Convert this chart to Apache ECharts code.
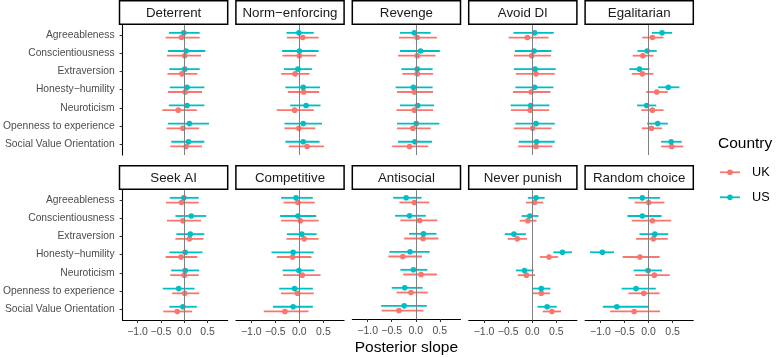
<!DOCTYPE html>
<html>
<head>
<meta charset="utf-8">
<script src="https://cdn.jsdelivr.net/npm/echarts@6/dist/echarts.min.js"></script>
<style>
  html, body { margin: 0; padding: 0; background: #fff; }
  #chart { width: 783px; height: 357px; }
</style>
</head>
<body>
<div id="chart"></div>
<script>
// traits shown on the y axis, top to bottom
const traits = ['Agreeableness', 'Conscientiousness', 'Extraversion', 'Honesty\u2212humility',
  'Neuroticism', 'Openness to experience', 'Social Value Orientation'];
const countries = ['UK', 'US'];
const xTicks = [-1, -0.5, 0, 0.5];

// each entry: [lower, estimate, upper] per trait
const deterrentUK = [[-0.40, -0.06, 0.33], [-0.37, 0.01, 0.36], [-0.36, -0.05, 0.28], [-0.35, 0.02, 0.38], [-0.47, -0.13, 0.27], [-0.38, -0.03, 0.32], [-0.30, 0.04, 0.38]];
const deterrentUS = [[-0.33, -0.01, 0.33], [-0.35, 0.04, 0.45], [-0.32, 0.01, 0.33], [-0.31, 0.06, 0.43], [-0.33, 0.06, 0.43], [-0.35, 0.11, 0.53], [-0.28, 0.09, 0.43]];
const normUK = [[-0.26, 0.07, 0.40], [-0.35, 0.00, 0.35], [-0.38, -0.09, 0.21], [-0.24, 0.09, 0.41], [-0.47, -0.10, 0.30], [-0.31, -0.01, 0.33], [-0.22, 0.16, 0.51]];
const normUS = [[-0.27, -0.01, 0.30], [-0.36, 0.00, 0.40], [-0.32, -0.03, 0.26], [-0.29, 0.08, 0.43], [-0.19, 0.14, 0.44], [-0.31, 0.08, 0.47], [-0.29, 0.08, 0.42]];
const revengeUK = [[-0.35, 0.03, 0.44], [-0.37, 0.03, 0.41], [-0.28, 0.03, 0.36], [-0.39, -0.03, 0.36], [-0.40, -0.03, 0.36], [-0.39, -0.06, 0.31], [-0.49, -0.13, 0.26]];
const revengeUS = [[-0.33, -0.03, 0.31], [-0.33, 0.10, 0.50], [-0.30, 0.03, 0.35], [-0.42, -0.05, 0.35], [-0.33, 0.04, 0.38], [-0.39, 0.01, 0.49], [-0.37, -0.02, 0.34]];
const avoidUK = [[-0.49, -0.10, 0.34], [-0.38, -0.01, 0.39], [-0.34, 0.08, 0.47], [-0.40, -0.02, 0.38], [-0.44, -0.04, 0.35], [-0.38, 0.01, 0.40], [-0.29, 0.08, 0.42]];
const avoidUS = [[-0.39, 0.05, 0.45], [-0.36, 0.04, 0.40], [-0.38, 0.06, 0.49], [-0.35, 0.05, 0.44], [-0.45, -0.03, 0.36], [-0.35, 0.08, 0.47], [-0.28, 0.09, 0.47]];
const egalUK = [[-0.13, 0.08, 0.31], [-0.33, -0.12, 0.10], [-0.35, -0.13, 0.10], [-0.05, 0.17, 0.40], [-0.15, 0.08, 0.31], [-0.14, 0.06, 0.28], [0.26, 0.48, 0.72]];
const egalUS = [[0.07, 0.28, 0.49], [-0.23, -0.03, 0.17], [-0.40, -0.19, 0.02], [0.20, 0.41, 0.64], [-0.24, -0.04, 0.16], [-0.03, 0.19, 0.40], [0.26, 0.47, 0.69]];
const seekUK = [[-0.39, -0.06, 0.31], [-0.37, -0.03, 0.36], [-0.19, 0.11, 0.41], [-0.40, -0.07, 0.28], [-0.30, 0.00, 0.31], [-0.26, 0.01, 0.32], [-0.45, -0.15, 0.17]];
const seekUS = [[-0.31, -0.01, 0.31], [-0.19, 0.15, 0.47], [-0.17, 0.13, 0.43], [-0.32, 0.02, 0.39], [-0.28, 0.02, 0.32], [-0.46, -0.12, 0.22], [-0.32, -0.03, 0.27]];
const compUK = [[-0.33, -0.03, 0.32], [-0.38, 0.02, 0.40], [-0.27, 0.10, 0.40], [-0.47, -0.14, 0.25], [-0.34, 0.06, 0.44], [-0.38, -0.04, 0.30], [-0.74, -0.30, 0.19]];
const compUS = [[-0.38, -0.07, 0.28], [-0.40, -0.03, 0.35], [-0.26, 0.05, 0.36], [-0.58, -0.13, 0.30], [-0.35, -0.01, 0.31], [-0.42, -0.10, 0.28], [-0.55, -0.13, 0.28]];
const antiUK = [[-0.34, -0.03, 0.28], [-0.32, 0.08, 0.45], [-0.24, 0.15, 0.47], [-0.57, -0.27, 0.13], [-0.26, 0.11, 0.44], [-0.40, -0.10, 0.25], [-0.71, -0.35, 0.16]];
const antiUS = [[-0.47, -0.20, 0.12], [-0.43, -0.13, 0.21], [-0.14, 0.16, 0.43], [-0.55, -0.12, 0.29], [-0.32, -0.05, 0.24], [-0.50, -0.23, 0.14], [-0.72, -0.24, 0.23]];
const neverUK = [[-0.13, 0.05, 0.23], [-0.26, -0.09, 0.09], [-0.51, -0.31, -0.11], [0.16, 0.35, 0.54], [-0.30, -0.12, 0.06], [0.00, 0.19, 0.37], [0.22, 0.41, 0.60]];
const neverUS = [[-0.09, 0.08, 0.26], [-0.22, -0.05, 0.13], [-0.57, -0.38, -0.13], [0.44, 0.63, 0.83], [-0.34, -0.16, 0.03], [0.01, 0.19, 0.38], [0.11, 0.31, 0.51]];
const randomUK = [[-0.29, 0.00, 0.33], [-0.35, 0.08, 0.47], [-0.26, 0.10, 0.40], [-0.54, -0.18, 0.23], [-0.28, 0.12, 0.44], [-0.42, -0.10, 0.23], [-0.80, -0.30, 0.24]];
const randomUS = [[-0.42, -0.13, 0.24], [-0.44, -0.13, 0.27], [-0.19, 0.13, 0.41], [-1.22, -0.96, -0.72], [-0.31, -0.01, 0.28], [-0.56, -0.26, 0.15], [-0.95, -0.66, 0.00]];

const facets = [
  { name: 'Deterrent', UK: deterrentUK, US: deterrentUS },
  { name: 'Norm\u2212enforcing', UK: normUK, US: normUS },
  { name: 'Revenge', UK: revengeUK, US: revengeUS },
  { name: 'Avoid DI', UK: avoidUK, US: avoidUS },
  { name: 'Egalitarian', UK: egalUK, US: egalUS },
  { name: 'Seek AI', UK: seekUK, US: seekUS },
  { name: 'Competitive', UK: compUK, US: compUS },
  { name: 'Antisocial', UK: antiUK, US: antiUS },
  { name: 'Never punish', UK: neverUK, US: neverUS },
  { name: 'Random choice', UK: randomUK, US: randomUS }
];

const colors = { UK: '#F8766D', US: '#00BFC4' };
const dodge = { UK: 0.13, US: -0.13 };
const FONT = '"Liberation Sans", Arial, sans-serif';

// layout of the facet grid
const panelLeft = 119.5, panelStep = 116.4, panelW = 108.2;
const rowTop = [24.3, 189.3], panelH = 130.7, stripH = 23.5;

const chart = echarts.init(document.getElementById('chart'), null, { renderer: 'canvas' });

const grids = [], xAxes = [], yAxes = [], series = [], graphics = [];

facets.forEach((f, i) => {
  const r = Math.floor(i / 5), c = i % 5;
  const left = panelLeft + c * panelStep, top = rowTop[r];
  grids.push({ left: left, top: top, width: panelW, height: panelH });

  xAxes.push({
    gridIndex: i, type: 'value', min: -1.32, max: 0.93,
    splitLine: { show: false },
    axisLine: { show: r === 1, onZero: false, lineStyle: { color: '#000', width: 1.1 } },
    axisTick: { show: r === 1, length: 3, customValues: xTicks, lineStyle: { color: '#333', width: 1 } },
    axisLabel: {
      show: r === 1, customValues: xTicks, color: '#4D4D4D', fontSize: 10.5, fontFamily: FONT, margin: 7,
      formatter: v => (v < 0 ? '\u2212' : '') + Math.abs(v).toFixed(1)
    },
    name: i === 7 ? 'Posterior slope' : '',
    nameLocation: 'middle', nameGap: 21,
    nameTextStyle: { fontSize: 15.5, color: '#000', fontFamily: FONT }
  });

  yAxes.push({
    gridIndex: i, type: 'value', inverse: true, min: -0.6, max: 6.6,
    splitLine: { show: false },
    axisLine: { show: c === 0, onZero: false, lineStyle: { color: '#000', width: 1.1 } },
    axisTick: { show: c === 0, length: 3, customValues: traits.map((t, k) => k), lineStyle: { color: '#333', width: 1 } },
    axisLabel: {
      show: c === 0, customValues: traits.map((t, k) => k), color: '#4D4D4D', fontSize: 10.3, fontFamily: FONT, margin: 8,
      formatter: v => traits[Math.round(v)]
    }
  });

  // zero reference line
  series.push({
    type: 'scatter', xAxisIndex: i, yAxisIndex: i, data: [], z: 1, silent: true,
    markLine: {
      silent: true, symbol: 'none', animation: false,
      label: { show: false },
      lineStyle: { color: '#808080', width: 1, type: 'solid' },
      data: [{ xAxis: 0 }]
    }
  });

  countries.forEach(cn => {
    series.push({
      type: 'custom', name: cn, xAxisIndex: i, yAxisIndex: i, z: 2,
      data: f[cn].map((d, k) => [d[0], d[1], d[2], k + dodge[cn]]),
      encode: { x: [0, 1, 2], y: 3 },
      renderItem: (params, api) => {
        const y = api.value(3);
        const lo = api.coord([api.value(0), y]);
        const hi = api.coord([api.value(2), y]);
        const mid = api.coord([api.value(1), y]);
        return {
          type: 'group',
          children: [
            { type: 'line', shape: { x1: lo[0], y1: lo[1], x2: hi[0], y2: hi[1] }, style: { stroke: colors[cn], lineWidth: 1.8 } },
            { type: 'circle', shape: { cx: mid[0], cy: mid[1], r: 2.8 }, style: { fill: colors[cn] } }
          ]
        };
      }
    });
  });

  // facet strip
  graphics.push({
    type: 'rect', shape: { x: left, y: top - stripH, width: panelW, height: stripH },
    style: { fill: '#fff', stroke: '#000', lineWidth: 1.5 }, z: 10
  });
  graphics.push({
    type: 'text', z: 11,
    style: {
      text: f.name, x: left + panelW / 2, y: top - stripH / 2 + 0.5, align: 'center', verticalAlign: 'middle',
      font: '13.3px ' + FONT, fill: '#1A1A1A'
    }
  });
});

// legend
graphics.push({
  type: 'text', z: 11,
  style: { text: 'Country', x: 718, y: 144, align: 'left', verticalAlign: 'middle', font: '15.5px ' + FONT, fill: '#000' }
});
countries.forEach((cn, k) => {
  const y = 172.3 + k * 25;
  graphics.push({ type: 'line', shape: { x1: 720, y1: y, x2: 740, y2: y }, style: { stroke: colors[cn], lineWidth: 1.8 }, z: 11 });
  graphics.push({ type: 'circle', shape: { cx: 730, cy: y, r: 2.8 }, style: { fill: colors[cn] }, z: 11 });
  graphics.push({
    type: 'text', z: 11,
    style: { text: cn, x: 752, y: y, align: 'left', verticalAlign: 'middle', font: '12.7px ' + FONT, fill: '#000' }
  });
});

chart.setOption({
  animation: false,
  backgroundColor: '#fff',
  grid: grids,
  xAxis: xAxes,
  yAxis: yAxes,
  series: series,
  graphic: graphics
});
</script>
</body>
</html>
